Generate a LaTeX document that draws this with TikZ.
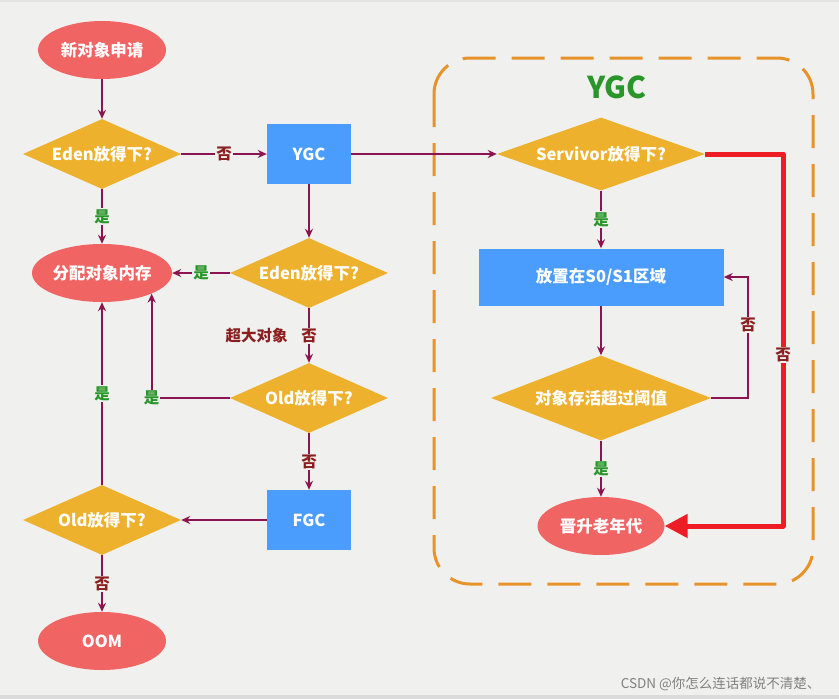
\documentclass[tikz,border=0pt]{standalone}
\usepackage{fontspec}
\setmainfont{Noto Sans CJK SC}
\usetikzlibrary{
    shapes.geometric,
    arrows.meta,
    positioning,
    calc
}
\definecolor{bgcol}{HTML}{F0F1EF}
\definecolor{termcol}{HTML}{F06464}
\definecolor{judgecol}{HTML}{EDB12D}
\definecolor{proccol}{HTML}{4A9DFD}
\definecolor{linecol}{HTML}{8C1450}
\definecolor{yescol}{HTML}{2A962A}
\definecolor{nocol}{HTML}{8B1E1E}
\definecolor{boxcol}{HTML}{E8922A}
\definecolor{hotred}{HTML}{EE1C25}

\begin{document}
\begin{tikzpicture}[
        x=1pt, y=-1pt,
        term/.style={ellipse, fill=termcol, text=white, inner sep=0pt, minimum width=128pt, minimum height=58pt, font=\fontsize{16.5}{18}\selectfont\bfseries},
        judge/.style={diamond, aspect=2.6, fill=judgecol, text=white, inner sep=0pt, minimum width=158pt, minimum height=70pt, font=\fontsize{16.5}{18}\selectfont\bfseries},
        proc/.style={rectangle, fill=proccol, text=white, inner sep=0pt, minimum width=84pt, minimum height=60pt, font=\fontsize{16.5}{18}\selectfont\bfseries},
        arrow/.style={-{Stealth[length=9pt,width=8pt]}, draw=linecol, line width=2pt},
        yeslbl/.style={fill=bgcol, text=yescol, inner sep=1pt, font=\fontsize{15.5}{16}\selectfont\bfseries},
        nolbl/.style={fill=bgcol, text=nocol, inner sep=1pt, font=\fontsize{15.5}{16}\selectfont\bfseries}
    ]
        % page
        \useasboundingbox (0,0) rectangle (839,699);
        \fill[bgcol] (0,0) rectangle (839,699);
        \fill[gray!22] (0,0) rectangle (839,1.5);
        \fill[gray!28] (0,695) rectangle (839,699);

        % YGC area
        \draw[boxcol, line width=3pt, dash pattern=on 33pt off 16pt, rounded corners=36pt] (434,58) rectangle (813,584);
        \node[text=yescol, font=\fontsize{30}{32}\selectfont\bfseries] (ygctitle) at (617,87) {YGC};

        % left column
        \node[term] (new) at (102,50) {新对象申请};
        \node[judge] (eden1) at (102,154) {Eden放得下?};
        \node[term] (alloc) at (102,273) {分配对象内存};
        \node[judge] (old2) at (102,520) {Old放得下?};
        \node[term] (oom) at (102,641) {OOM};

        % middle column
        \node[proc] (ygc) at (309,154) {YGC};
        \node[judge] (eden2) at (309,273) {Eden放得下?};
        \node[judge] (old1) at (309,398) {Old放得下?};
        \node[proc] (fgc) at (309,520) {FGC};

        % right column
        \node[judge, minimum width=208pt, minimum height=73pt] (surv) at (601,154) {Servivor放得下?};
        \node[proc, minimum width=245pt, minimum height=57pt] (s0s1) at (601,277) {放置在S0/S1区域};
        \node[judge, minimum width=220pt, minimum height=85pt] (thresh) at (601,398) {对象存活超过阈值};
        \node[term, minimum width=127pt] (promote) at (601,526) {晋升老年代};

        \draw[arrow] (new) -- (eden1);
        \draw[arrow] (eden1) -- node[nolbl] {否} (ygc);
        \draw[arrow] (eden1) -- node[yeslbl] {是} (alloc);
        \draw[arrow] (ygc) -- (surv);
        \draw[arrow] (ygc) -- (eden2);
        \draw[arrow] (eden2) -- node[yeslbl] {是} (alloc);
        \draw[arrow] (eden2) -- node[nolbl] (bigno) {否} (old1);
        \node[text=nocol, font=\fontsize{15.5}{16}\selectfont\bfseries, left=8pt of bigno] (bigobj) {超大对象};
        \draw[arrow] (old1.west) -| node[yeslbl] {是} (alloc.south east);
        \draw[arrow] (old1) -- node[nolbl] {否} (fgc);
        \draw[arrow] (fgc) -- (old2);
        \draw[arrow] (old2) -- node[yeslbl] {是} (alloc);
        \draw[arrow] (old2) -- node[nolbl] {否} (oom);

        \draw[arrow] (surv) -- node[yeslbl] {是} (s0s1);
        \draw[arrow] (s0s1) -- (thresh);
        \draw[arrow] (thresh) -- node[yeslbl] {是} (promote);
        \draw[arrow, line width=1.5pt] (thresh.east) -- ++(37,0) |- node[nolbl, pos=0.3] {否} (s0s1.east);
        \draw[hotred, line width=5pt, line join=round, -{Triangle[length=23pt,width=23pt]}] (surv.east) -- ++(78,0) |- node[nolbl, pos=0.27] {否} (promote.east);

        \node[anchor=east, text=gray, font=\fontsize{13.5}{15}\selectfont] (mark) at (824,684) {CSDN @你怎么连话都说不清楚、};
    \end{tikzpicture}
\end{document}
